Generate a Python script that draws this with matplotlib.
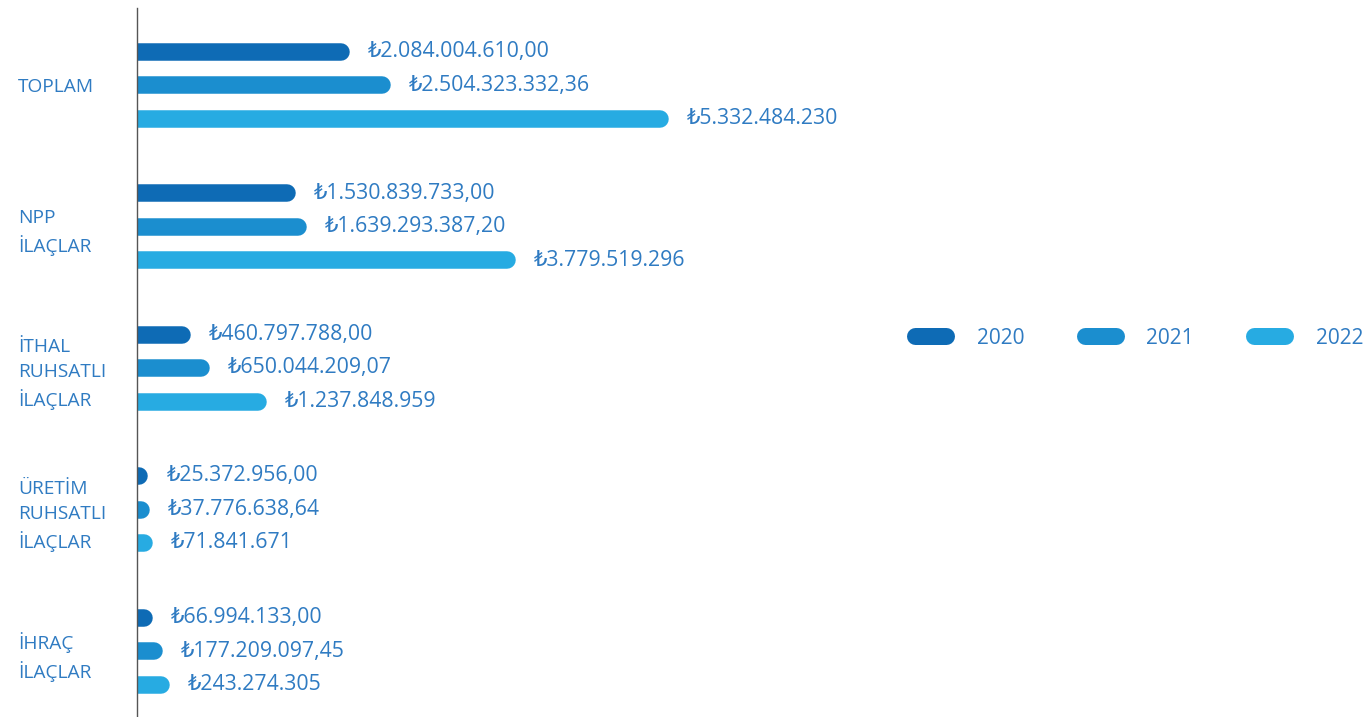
import matplotlib
matplotlib.use("Agg")
import matplotlib.pyplot as plt
from matplotlib.lines import Line2D

plt.rcParams['font.family'] = ['Open Sans', 'DejaVu Sans']

categories = ["TOPLAM", "NPP\nİLAÇLAR", "İTHAL\nRUHSATLI\nİLAÇLAR", "ÜRETİM\nRUHSATLI\nİLAÇLAR", "İHRAÇ\nİLAÇLAR"]
years = ["2020", "2021", "2022"]
values_2020 = [2084004610.00, 1530839733.00, 460797788.00, 25372956.00, 66994133.00]
values_2021 = [2504323332.36, 1639293387.20, 650044209.07, 37776638.64, 177209097.45]
values_2022 = [5332484230, 3779519296, 1237848959, 71841671, 243274305]
decimals = [2, 2, 0]

colors = ["#0e6bb5", "#1b8ecf", "#27abe2"]
text_color = "#2f7bc2"

def fmt_tr(v, d):
    s = f"{v:,.{d}f}"
    s = s.replace(",", "X").replace(".", ",").replace("X", ".")
    return "₺" + s

W, H = 1368, 717
fig = plt.figure(figsize=(W / 100, H / 100), dpi=100)
ax_left = 137 / W
ax_top = 8
ax = fig.add_axes([ax_left, 0, 1 - ax_left, (H - ax_top) / H])

group_gap = 141.5
offset = 33.5 / group_gap
first_center = 85
ax.set_ylim((H - first_center) / group_gap, (ax_top - first_center) / group_gap)
px_per_billion = 98
ax.set_xlim(0, (W - 137) / px_per_billion * 1e9)

bar_lw = 17.5 * 72 / 100
series = [values_2020, values_2021, values_2022]
for j, (vals, col, d) in enumerate(zip(series, colors, decimals)):
    for i, v in enumerate(vals):
        y = i + (j - 1) * offset
        ax.plot([0, v], [y, y], color=col, lw=bar_lw, solid_capstyle='round', zorder=2)
        ax.annotate(fmt_tr(v, d), (v, y), xytext=(27 * 0.72, 0), textcoords='offset points',
                    va='center', ha='left', fontsize=15.3, color=text_color)

ax.set_yticks(range(len(categories)))
ax.set_yticklabels(categories, ha='left', fontsize=13.8, color=text_color, linespacing=1.5)
ax.tick_params(axis='y', length=0, pad=(137 - 18) * 0.72)
ax.set_xticks([])
for s in ['top', 'right', 'bottom']:
    ax.spines[s].set_visible(False)
ax.spines['left'].set_color('#555555')
ax.spines['left'].set_linewidth(1.0)
ax.spines['left'].set_zorder(3)

handles = [Line2D([0], [0], color=c, lw=17 * 0.72, solid_capstyle='round') for c in colors]
fs_leg = 15
leg = fig.legend(handles, years, loc='center left', bbox_to_anchor=(915 / W, 1 - 338 / H),
                 bbox_transform=fig.transFigure, ncol=3, frameon=False, fontsize=fs_leg,
                 handlelength=22.4 / fs_leg, handletextpad=22 / fs_leg, columnspacing=43.5 / fs_leg,
                 borderpad=0, borderaxespad=0, labelcolor=text_color)

fig.savefig("out.png", dpi=100)
